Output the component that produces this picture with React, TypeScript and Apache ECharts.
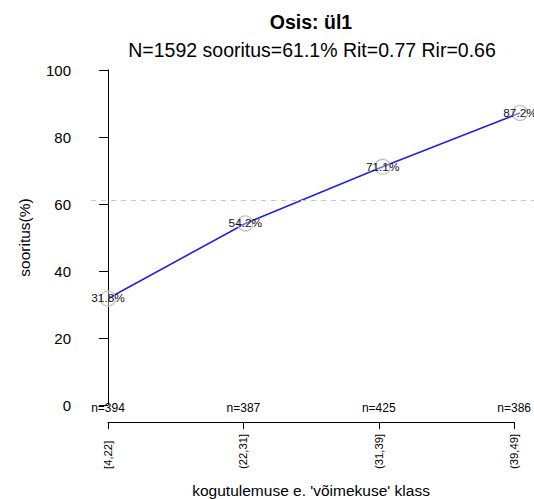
import React, { useEffect, useRef } from "react";
import * as echarts from "echarts";

const categories = ["[4,22]", "(22,31]", "(31,39]", "(39,49]"];
const counts = ["n=394", "n=387", "n=425", "n=386"];
const values = [31.8, 54.2, 71.1, 87.2];
const overall = 61.1;
const yTicks = [0, 20, 40, 60, 80, 100];

const FONT = "'Liberation Sans', Arial, sans-serif";

export default function App() {
  const ref = useRef<HTMLDivElement>(null);
  useEffect(() => {
    if (!ref.current) return;
    const chart = echarts.init(ref.current, null, { renderer: "svg" });
    const step = 137.33;
    chart.setOption({
      animation: false,
      textStyle: { fontFamily: FONT },
      title: [
        {
          text: "Osis: ül1",
          left: 306,
          top: 7,
          textAlign: "center",
          textStyle: { fontFamily: FONT, fontSize: 19.5, fontWeight: "bold", color: "#000" },
        },
        {
          text: "N=1592 sooritus=61.1% Rit=0.77 Rir=0.66",
          left: 307,
          top: 35,
          textAlign: "center",
          textStyle: { fontFamily: FONT, fontSize: 19.5, fontWeight: "normal", color: "#000" },
        },
      ],
      grid: [
        { left: 91, right: 0, top: 70, bottom: 94 },
        { left: 108, width: 412, top: 421, height: 1 },
      ],
      xAxis: [
        {
          gridIndex: 0,
          type: "value",
          min: (91 - 108) / step,
          max: (534 - 108) / step,
          show: false,
        },
        {
          gridIndex: 1,
          type: "category",
          data: categories,
          boundaryGap: false,
          position: "bottom",
          axisLine: { show: true, lineStyle: { color: "#000", width: 1 } },
          axisTick: { show: true, length: 7, lineStyle: { color: "#000" } },
          axisLabel: {
            rotate: 90,
            align: "left",
            margin: 47,
            fontSize: 11.3,
            color: "#000",
            fontFamily: FONT,
          },
          name: "kogutulemuse e. 'võimekuse' klass",
          nameLocation: "middle",
          nameGap: 60,
          nameTextStyle: { fontSize: 15.5, color: "#000", fontFamily: FONT },
        },
        {
          gridIndex: 1,
          type: "category",
          data: counts,
          boundaryGap: false,
          position: "top",
          axisLine: { show: false },
          axisTick: { show: false },
          axisLabel: { margin: 7, fontSize: 12, color: "#000", fontFamily: FONT },
        },
      ],
      yAxis: [
        {
          gridIndex: 0,
          type: "value",
          min: yTicks[0],
          max: yTicks[yTicks.length - 1],
          interval: 20,
          splitLine: { show: false },
          axisLine: { show: true, lineStyle: { color: "#000", width: 1 } },
          axisTick: { show: true, length: 9, lineStyle: { color: "#000" } },
          axisLabel: { fontSize: 15, color: "#000", margin: 20, fontFamily: FONT },
          name: "sooritus(%)",
          nameLocation: "middle",
          nameGap: 59,
          nameTextStyle: { fontSize: 15.5, color: "#000", fontFamily: FONT },
        },
        { gridIndex: 1, type: "value", show: false },
      ],
      series: [
        {
          type: "line",
          xAxisIndex: 0,
          yAxisIndex: 0,
          data: values.map((v, i) => [i, v]),
          lineStyle: { color: "#2222e6", width: 1.6 },
          symbol: "circle",
          symbolSize: 15,
          itemStyle: { color: "rgba(255,255,255,0.35)", borderColor: "#c4c4c4", borderWidth: 1.3 },
          label: {
            show: true,
            position: "inside",
            formatter: (p: any) => p.value[1].toFixed(1) + "%",
            fontSize: 11.8,
            color: "#111",
            fontFamily: FONT,
          },
          markLine: {
            silent: true,
            symbol: "none",
            label: { show: false },
            lineStyle: { color: "#c8c8c8", type: [5, 5], width: 1 },
            data: [{ yAxis: overall }],
          },
          z: 3,
        },
      ],
    });
    return () => chart.dispose();
  }, []);
  return (
    <div
      ref={ref}
      style={{ position: "fixed", left: 0, top: 0, width: 534, height: 499, background: "#fff" }}
    />
  );
}
